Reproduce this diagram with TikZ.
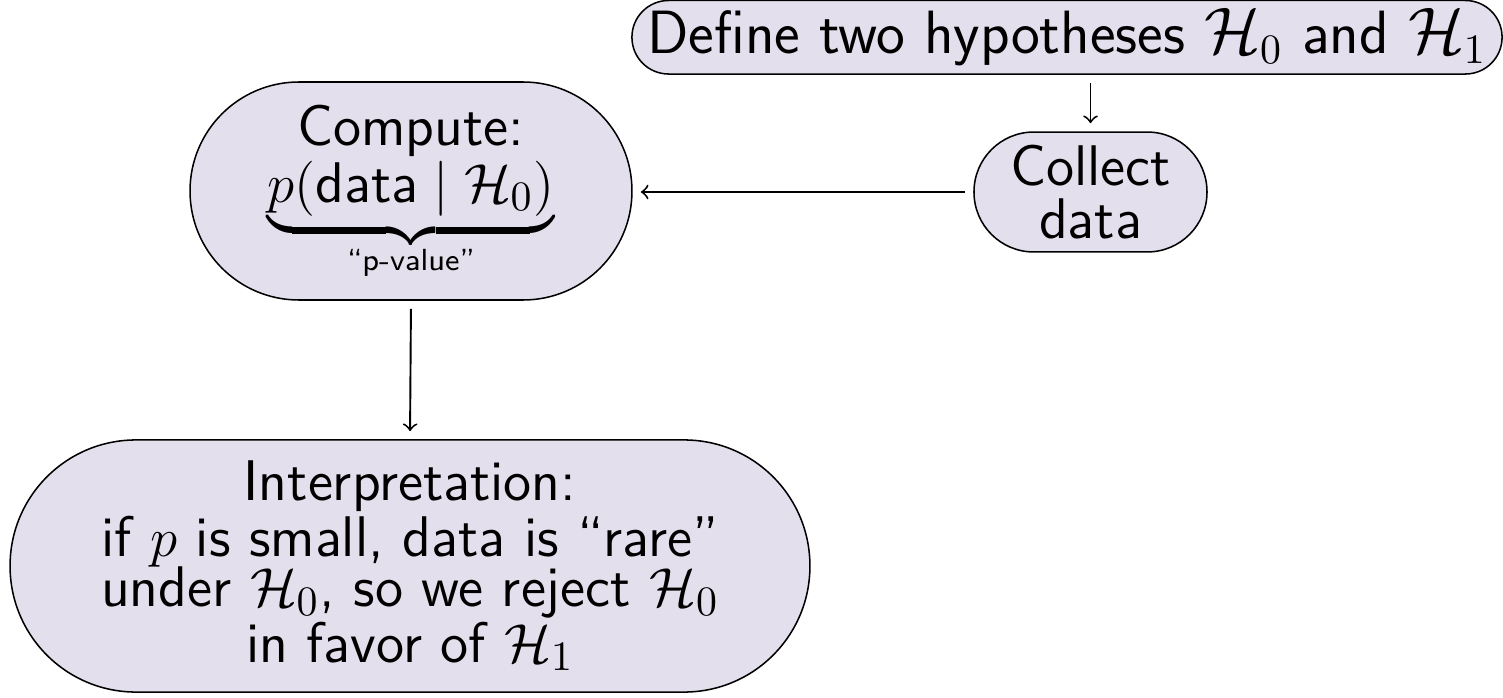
\documentclass[tikz,border=0pt]{standalone}
\usepackage{amsmath}
\definecolor{boxfill}{RGB}{228,223,236}
\begin{document}
\begin{tikzpicture}[x=0.2618pt,y=-0.2618pt,
  pbox/.style={draw=black, fill=boxfill, line width=0.4pt, align=center, inner sep=0pt,
    font=\sffamily\fontsize{15pt}{13.3pt}\selectfont},
  parr/.style={->, line width=0.5pt, shorten <=2.1pt, shorten >=2.1pt}]
\useasboundingbox (0,0) rectangle (1503,698);
\node[pbox, minimum width=227.8pt, minimum height=19.25pt, rounded corners=9.6pt,
  font=\sffamily\fontsize{16pt}{14pt}\selectfont] (def) at (1067,37.25)
  {Define two hypotheses $\mathcal{H}_0$ and $\mathcal{H}_1$};
\node[pbox, minimum width=61pt, minimum height=31.4pt, rounded corners=15.65pt,
  font=\sffamily\fontsize{15pt}{14pt}\selectfont] (col) at (1090.5,192)
  {Collect\\data};
\node[pbox, minimum width=115.7pt, minimum height=57.07pt, rounded corners=28.5pt] (cmp) at (411,191)
  {Compute:\\$\underbrace{p(\text{data} \mid \mathcal{H}_0)}$\\{\fontsize{8pt}{9pt}\selectfont “p-value”}};
\node[pbox, minimum width=209.4pt, minimum height=66pt, rounded corners=32.95pt] (int) at (410,566)
  {Interpretation:\\if $p$ is small, data is “rare”\\under $\mathcal{H}_0$, so we reject $\mathcal{H}_0$\\in favor of $\mathcal{H}_1$};
\draw[parr] (def.south -| col.north) -- (col.north);
\draw[parr] (col.west) -- (col.west -| cmp.east);
\draw[parr] (cmp.south) -- (int.north);
\end{tikzpicture}
\end{document}
